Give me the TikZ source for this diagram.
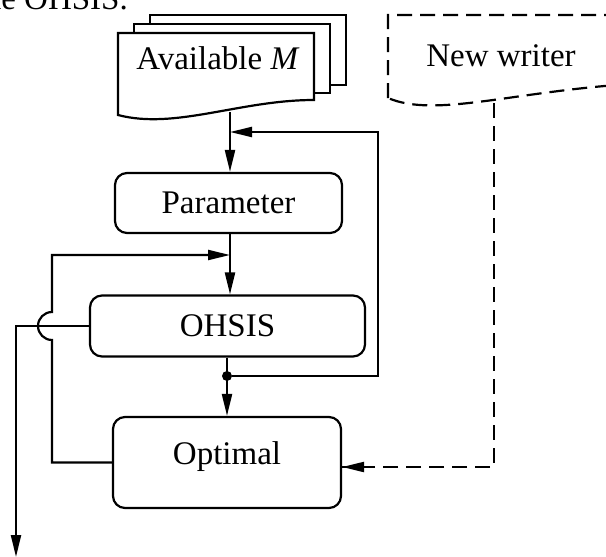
\documentclass[tikz,border=0pt]{standalone}
\usepackage{fontspec}
\setmainfont{Liberation Serif}
\usetikzlibrary{arrows.meta}
\begin{document}
\begin{tikzpicture}[x=1pt,y=-1pt,
  every node/.style={font=\fontsize{33}{38}\selectfont},
  ln/.style={line width=2.2pt},
  tip/.style={-{Triangle[length=22pt,width=10pt]}},
  arr/.style={ln,tip},
  box/.style={draw,line width=2.2pt,rounded corners=12pt,inner sep=0pt},
  dsh/.style={line width=2.2pt,dash pattern=on 15pt off 8pt}]
\useasboundingbox (0,0) rectangle (606,557);
% cut caption fragment
\node[anchor=base east,inner sep=0pt] (cap) at (128,9) {the OHSIS.};
% document stack
\draw[ln,fill=white] (150,15) rectangle (346,85);
\draw[ln,fill=white] (134,24) rectangle (330,93);
\draw[ln,fill=white] (118,115) -- (118,33) -- (314,33) -- (314,100)
  .. controls (240,100) and (175,130) .. (118,115) -- cycle;
\node[inner sep=0pt,anchor=base] (avail) at (218,69) {Available \textit{M}};
\coordinate (docbot) at (230,112);
% new writer
\draw[dsh] (388,98) -- (388,15) -- (630,15) -- (630,84)
  .. controls (510,92) and (435,118) .. (388,98);
\node[inner sep=0pt,anchor=base] (nw) at (501,66) {New writer};
\coordinate (nwbot) at (494,103);
% boxes
\node[box,minimum width=227pt,minimum height=60pt] (param) at (228.5,203) {Parameter};
\node[box,minimum width=275pt,minimum height=61pt] (ohsis) at (227.5,326) {OHSIS};
\node[box,minimum width=228pt,minimum height=91pt] (opt) at (227,462.5) {};
\node[inner sep=0pt,anchor=base] (optlbl) at (227,464) {Optimal};
% junction
\node[circle,fill,inner sep=0pt,minimum size=10pt] (dot) at (227,376) {};
\coordinate (rt) at (378,132);
\coordinate (lt) at (52,255);
\coordinate (hopb) at (52,340);
\coordinate (outend) at (16,557);
\coordinate (nwin) at (494,467);
% connectors
\draw[arr] (docbot) -- (docbot |- param.north);
\draw[arr] (docbot |- param.south) -- (docbot |- ohsis.north);
\draw[arr] (dot |- ohsis.south) -- (dot |- opt.north);
\draw[arr] (dot) -| (rt) -- (rt -| docbot);
\draw[arr] (opt.west) -- (opt.west -| hopb) -- (hopb)
  arc[start angle=90,end angle=270,radius=14] -- (lt) -- (lt -| docbot);
\draw[arr] (ohsis.west) -| (outend);
\draw[dsh] (nwbot) -- (nwin) -- (nwin -| opt.east);
\draw[ln,tip] ([xshift=10pt]nwin -| opt.east) -- (nwin -| opt.east);
\end{tikzpicture}
\end{document}
